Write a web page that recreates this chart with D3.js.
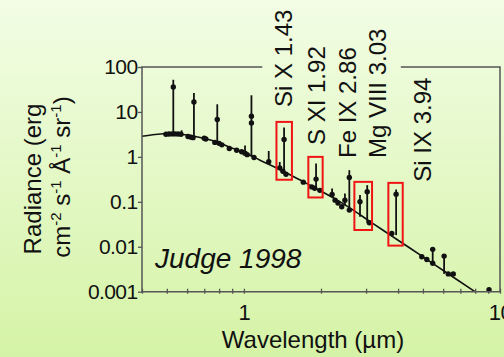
<!DOCTYPE html>
<html>
<head>
<meta charset="utf-8">
<script src="https://cdn.jsdelivr.net/npm/d3@7"></script>
<style>
  html, body { margin: 0; padding: 0; overflow: hidden; }
  svg { display: block; }
  text { font-family: "Liberation Sans", Arial, sans-serif; fill: #111; }
</style>
</head>
<body>
<svg id="chart" width="504" height="357"></svg>
<script>
// ---- Model continuum (smooth curve) ----
const modelWavelength = [0.40, 0.45, 0.515, 0.589, 0.674, 0.771, 0.882, 1.01, 1.156, 1.323, 1.514,
                         1.733, 1.983, 2.27, 2.60, 3.11, 3.72, 4.46, 5.33, 6.38, 7.99];
const modelRadiance   = [2.88, 3.16, 3.31, 3.11, 2.71, 2.23, 1.64, 1.24, 0.845, 0.590, 0.402,
                         0.267, 0.1774, 0.116, 0.0724, 0.0363, 0.0184, 0.00926, 0.00467, 0.00235, 0.001];

// ---- Observed radiances ----
const obsWavelength = [0.496, 0.510, 0.524, 0.538, 0.553, 0.568, 0.530, 0.605, 0.622, 0.633,
                       0.638, 0.700, 0.710, 0.770, 0.787, 0.800, 0.820, 0.877, 0.937, 0.980,
                       1.010, 1.030, 1.070, 1.070, 1.095, 1.25, 1.38, 1.42, 1.435, 1.46,
                       1.706, 1.84, 1.89, 1.913, 1.98, 2.21, 2.27, 2.33, 2.41, 2.48,
                       2.58, 2.58, 2.84, 3.03, 3.09, 3.78, 3.93, 4.95, 5.18, 5.46,
                       5.46, 6.05, 6.28, 6.57, 9.06];
const obsRadiance   = [3.18, 3.22, 3.25, 3.25, 3.22, 3.18, 36, 2.85, 2.75, 2.68,
                       16.7, 2.6, 2.5, 2.1, 6.8, 2.0, 1.85, 1.54, 1.40, 1.30,
                       1.20, 1.12, 8.0, 5.7, 0.97, 0.78, 0.57, 0.48, 2.43, 0.41,
                       0.274, 0.215, 0.20, 0.32, 0.18, 0.146, 0.109, 0.094, 0.0774, 0.109,
                       0.348, 0.0655, 0.10, 0.167, 0.0342, 0.0198, 0.148, 0.0060, 0.0052, 0.00875,
                       0.00431, 0.0062, 0.00249, 0.00249, 0.00111];

// ---- Vertical bars: excess above the continuum up to the upper limit ----
const barWavelength = [0.530, 0.571, 0.638, 0.787, 1.010, 1.070, 1.25, 1.38, 1.435,
                       1.913, 2.21, 2.48, 2.58, 2.84, 3.03, 3.93, 5.46, 6.05];
const barLow        = [3.25, 3.2, 2.68, 2.05, 1.2, 1.0, 0.78, 0.57, 0.46,
                       0.20, 0.146, 0.083, 0.0655, 0.0464, 0.0342, 0.0182, 0.00431, 0.00249];
const barHigh       = [52, 3.9, 26.5, 14.8, 1.8, 23.5, 1.35, 0.77, 4.5,
                       0.71, 0.198, 0.154, 0.506, 0.141, 0.235, 0.188, 0.00875, 0.0062];

// ---- Highlighted coronal lines ----
const lineNames        = ["Si X 1.43", "S XI 1.92", "Fe IX 2.86", "Mg VIII 3.03", "Si IX 3.94"];
const lineWavelengths  = [1.43, 1.92, 2.86, 3.03, 3.94];
const boxWavelengthLo  = [1.34, 1.785, 2.70, 3.665];
const boxWavelengthHi  = [1.54, 2.03, 3.165, 4.17];
const boxRadianceLo    = [0.31, 0.125, 0.0236, 0.0106];
const boxRadianceHi    = [6.0, 1.0, 0.278, 0.264];

// ---- Axes ticks ----
const yTickValues = [100, 10, 1, 0.1, 0.01, 0.001];
const yTickLabels = ["100", "10", "1", "0.1", "0.01", "0.001"];
const xTickValues = [0.4, 0.5, 0.6, 0.7, 0.8, 0.9, 1, 2, 3, 4, 5, 6, 7, 8, 9, 10];
const xTickLabels = ["", "", "", "", "", "", "1", "", "", "", "", "", "", "", "", "10"];

// ---- Layout ----
const W = 504, H = 357;
const plot = { left: 142, right: 500, top: 67, bottom: 291.7 };
const axisColor = "#555";
const labelOffsets = [0, 0, -13, 10, 26];     // horizontal shift of each line label (px)
const labelBottoms = [107, 145, 158, 158, 181.7];

const svg = d3.select("#chart");

// background gradient
const defs = svg.append("defs");
const grad = defs.append("linearGradient").attr("id", "bg")
  .attr("x1", 0).attr("y1", 0).attr("x2", 0).attr("y2", 1);
grad.append("stop").attr("offset", "0%").attr("stop-color", "#f2fde5");
grad.append("stop").attr("offset", "100%").attr("stop-color", "#d5f3a6");
svg.append("rect").attr("width", W).attr("height", H).attr("fill", "url(#bg)");

const x = d3.scaleLog().domain([0.4, 10]).range([plot.left, plot.right]);
const y = d3.scaleLog().domain([0.001, 100]).range([plot.bottom, plot.top]);

// y axis
const yAxis = svg.append("g")
  .attr("transform", `translate(${plot.left},0)`)
  .call(d3.axisLeft(y).tickValues(yTickValues)
    .tickFormat((d, i) => yTickLabels[i]).tickSize(4).tickPadding(0.5));
yAxis.select(".domain").remove();
yAxis.selectAll(".tick line").attr("stroke", axisColor).attr("stroke-width", 1.3);
yAxis.selectAll(".tick text")
  .attr("font-size", 21).attr("letter-spacing", -0.6)
  .attr("font-family", "Liberation Sans, Arial, sans-serif").attr("fill", "#111");

// x axis
const xAxis = svg.append("g")
  .attr("transform", `translate(0,${plot.bottom})`)
  .call(d3.axisBottom(x).tickValues(xTickValues)
    .tickFormat((d, i) => xTickLabels[i]).tickSize(2).tickPadding(10.5));
xAxis.select(".domain").remove();
xAxis.selectAll(".tick line").attr("y1", -3).attr("y2", 2)
  .attr("stroke", axisColor).attr("stroke-width", 1.3);
xAxis.selectAll(".tick text")
  .attr("font-size", 22).attr("letter-spacing", -0.5)
  .attr("font-family", "Liberation Sans, Arial, sans-serif").attr("fill", "#111");

// model continuum
const curvePts = modelWavelength.map((w, i) => [x(w), y(modelRadiance[i])]);
svg.append("path")
  .attr("d", d3.line().curve(d3.curveMonotoneX)(curvePts))
  .attr("fill", "none").attr("stroke", "#111").attr("stroke-width", 1.6);

// bars
svg.append("g").selectAll("line").data(barWavelength).join("line")
  .attr("x1", d => x(d)).attr("x2", d => x(d))
  .attr("y1", (d, i) => y(barLow[i])).attr("y2", (d, i) => y(barHigh[i]))
  .attr("stroke", "#111").attr("stroke-width", 1.8);

// observed points
svg.append("g").selectAll("circle").data(obsWavelength).join("circle")
  .attr("cx", d => x(d)).attr("cy", (d, i) => y(obsRadiance[i]))
  .attr("r", 2.7).attr("fill", "#111");

// red highlight boxes
svg.append("g").selectAll("rect").data(boxWavelengthLo).join("rect")
  .attr("x", d => x(d))
  .attr("y", (d, i) => y(boxRadianceHi[i]))
  .attr("width", (d, i) => x(boxWavelengthHi[i]) - x(d))
  .attr("height", (d, i) => y(boxRadianceLo[i]) - y(boxRadianceHi[i]))
  .attr("fill", "none").attr("stroke", "#f01414").attr("stroke-width", 2);

// line labels (rotated)
const labels = svg.append("g").selectAll("text").data(lineNames).join("text")
  .attr("transform", (d, i) =>
    `translate(${x(lineWavelengths[i]) + labelOffsets[i] + 8.6},${labelBottoms[i]}) rotate(-90)`)
  .attr("font-size", 24)
  .text(d => d);

// frame, with the top edge interrupted behind the tall labels
let gapLo = Infinity, gapHi = -Infinity;
labels.each(function (d, i) {
  const b = this.getBoundingClientRect();
  if (b.top < plot.top && b.bottom > plot.top) {
    gapLo = Math.min(gapLo, b.left);
    gapHi = Math.max(gapHi, b.right);
  }
});
gapLo -= 8; gapHi += 10;
const frame = d3.path();
frame.moveTo(gapLo, plot.top);
frame.lineTo(plot.left, plot.top);
frame.lineTo(plot.left, plot.bottom);
frame.lineTo(plot.right, plot.bottom);
frame.lineTo(plot.right, plot.top);
frame.lineTo(gapHi, plot.top);
svg.append("path").attr("d", frame.toString())
  .attr("fill", "none").attr("stroke", axisColor).attr("stroke-width", 1.5);

// source annotation
svg.append("text")
  .attr("x", 155).attr("y", 268)
  .attr("font-family", "Open Sans, Liberation Sans, sans-serif")
  .attr("font-style", "italic")
  .attr("font-size", 28)
  .text("Judge 1998");

// axis titles
svg.append("text")
  .attr("x", 313).attr("y", 348)
  .attr("text-anchor", "middle").attr("font-size", 24)
  .text("Wavelength (µm)");

const yt = svg.append("g");
yt.append("text")
  .attr("transform", "translate(41,179) rotate(-90)")
  .attr("text-anchor", "middle").attr("font-size", 24)
  .text("Radiance (erg");
const yt2 = yt.append("text")
  .attr("transform", "translate(70,177) rotate(-90)")
  .attr("text-anchor", "middle").attr("font-size", 24);
const parts = [["cm", false], ["-2", true], [" s", false], ["-1", true],
               [" Å", false], ["-1", true], [" sr", false], ["-1", true], [")", false]];
parts.forEach(([t, sup]) => {
  yt2.append("tspan")
    .attr("font-size", sup ? 15 : 24)
    .attr("baseline-shift", sup ? "9" : "0")
    .text(t);
});
</script>
</body>
</html>
